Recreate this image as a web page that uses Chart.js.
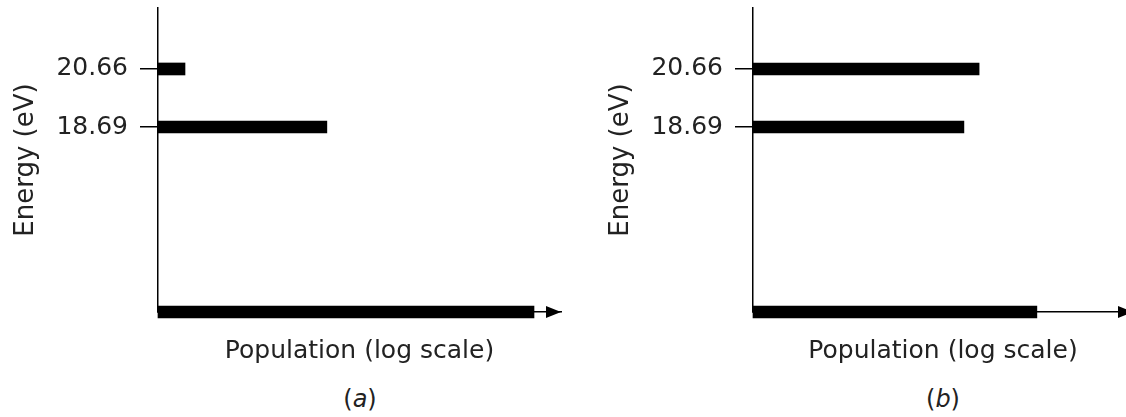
<!DOCTYPE html>
<html>
<head>
<meta charset="utf-8">
<script src="https://cdn.jsdelivr.net/npm/chart.js@4.4.0/dist/chart.umd.min.js"></script>
<style>
  html, body { margin: 0; padding: 0; background: #fff; overflow: hidden; }
  body { width: 1126px; height: 417px; position: relative; }
  .panel { position: absolute; top: 0; }
  .caption {
    position: absolute; top: 385px; width: 80px; margin-left: -40px;
    text-align: center; font: 24px "DejaVu Sans", sans-serif; color: #222;
  }
</style>
</head>
<body>
<div class="panel" style="left:0px"><canvas id="chartA" width="580" height="372"></canvas></div>
<div class="panel" style="left:595px"><canvas id="chartB" width="538" height="372"></canvas></div>
<div class="caption" style="left:360px">(<i>a</i>)</div>
<div class="caption" style="left:943px">(<i>b</i>)</div>

<script>
// energy levels (eV); the ground state sits on the bottom of the broken axis
const levelNames = ['ground', '18.69', '20.66'];
const levelEnergy = [0, 18.69, 20.66];
const energyTicks = [18.69, 20.66];

// population, read as length along the log axis (0..10)
const populationA = [9.33, 4.19, 0.67];
const populationB = [7.47, 5.55, 5.95];

const yAxisMin = 12.41;
const yAxisMax = 22.73;

const textColor = '#222';
const fontFamily = '"DejaVu Sans", sans-serif';

// arrowhead at the right end of the population axis
const arrowPlugin = {
  id: 'arrowHead',
  afterDatasetsDraw(chart) {
    const ctx = chart.ctx;
    const area = chart.chartArea;
    const y = chart.scales.x.top;
    ctx.save();
    ctx.fillStyle = '#000';
    ctx.beginPath();
    ctx.moveTo(area.right, y);
    ctx.lineTo(area.right - 15, y - 6);
    ctx.lineTo(area.right - 15, y + 6);
    ctx.closePath();
    ctx.fill();
    ctx.restore();
  }
};

function makeChart(canvasId, population, padRight) {
  const points = population.map((p, i) => ({
    x: p,
    y: Math.max(levelEnergy[i], yAxisMin)
  }));

  return new Chart(document.getElementById(canvasId), {
    type: 'bar',
    data: {
      labels: levelNames,
      datasets: [{
        data: points,
        backgroundColor: '#000',
        borderWidth: 0,
        barThickness: 12,
        clip: false
      }]
    },
    options: {
      indexAxis: 'y',
      responsive: false,
      animation: false,
      layout: { padding: { top: 8, right: padRight, left: 0, bottom: 2 } },
      plugins: {
        legend: { display: false },
        tooltip: { enabled: false }
      },
      scales: {
        x: {
          type: 'linear',
          min: 0,
          max: 10,
          grid: { display: false, drawTicks: false },
          border: { display: true, color: '#000', width: 1.5 },
          ticks: { display: false },
          title: {
            display: true,
            text: 'Population (log scale)',
            color: textColor,
            font: { family: fontFamily, size: 25 },
            padding: { top: 24, bottom: 4 }
          }
        },
        y: {
          type: 'linear',
          min: yAxisMin,
          max: yAxisMax,
          offset: false,
          afterBuildTicks: (scale) => {
            scale.ticks = energyTicks.map(v => ({ value: v }));
          },
          afterFit: (scale) => {
            scale.width = 158;
            scale.paddingTop = 0;
            scale.paddingBottom = 0;
          },
          grid: {
            display: true,
            offset: false,
            drawOnChartArea: false,
            drawTicks: true,
            tickLength: 18,
            color: '#000',
            lineWidth: 1.5
          },
          border: { display: true, color: '#000', width: 1.5 },
          ticks: {
            padding: 12,
            color: textColor,
            font: { family: fontFamily, size: 25 },
            callback: (v) => Number(v).toFixed(2)
          },
          title: {
            display: true,
            text: 'Energy (eV)',
            color: textColor,
            font: { family: fontFamily, size: 26 },
            padding: { top: 11, bottom: 0 }
          }
        }
      }
    },
    plugins: [arrowPlugin]
  });
}

window.addEventListener('load', function() {
  makeChart('chartA', populationA, 19);
  makeChart('chartB', populationB, 0);
});
</script>
</body>
</html>
